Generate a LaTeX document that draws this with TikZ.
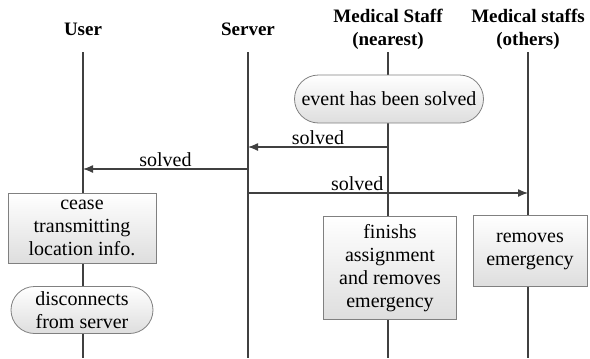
\documentclass[tikz,border=0pt]{standalone}
\usepackage{fontspec}
\setmainfont{Liberation Serif}
\usetikzlibrary{shapes.misc,arrows.meta}
\begin{document}
\begin{tikzpicture}[x=1pt,y=-1pt,
  lifeline/.style={draw=black!75,line width=1.8pt},
  msg/.style={draw=black!75,line width=1.3pt,-{Latex[length=10pt,width=8pt]}},
  actor/.style={font=\fontsize{19}{23}\selectfont\bfseries,align=center,inner sep=0pt},
  actbox/.style={draw=black!50,line width=0.8pt,top color=white,bottom color=black!13,
    align=center,font=\fontsize{20}{23}\selectfont,inner sep=0pt},
  statebox/.style={actbox,rounded rectangle},
  lbl/.style={font=\fontsize{20}{23}\selectfont,inner sep=2pt}
]
\useasboundingbox (0,0) rectangle (590,359);

% participants
\node[actor] (hu) at (83,29) {User};
\node[actor] (hs) at (248,29) {Server};
\node[actor] (hn) at (388,29) {Medical Staff\\(nearest)};
\node[actor] (ho) at (528,29) {Medical staffs\\(others)};

% lifelines
\coordinate (u0) at (83,52);  \coordinate (u1) at (83,358);
\coordinate (s0) at (248,52); \coordinate (s1) at (248,358);
\coordinate (n0) at (388,52); \coordinate (n1) at (388,358);
\coordinate (o0) at (528,52); \coordinate (o1) at (528,358);
\draw[lifeline] (u0) -- (u1);
\draw[lifeline] (s0) -- (s1);
\draw[lifeline] (n0) -- (n1);
\draw[lifeline] (o0) -- (o1);

% states and activities
\node[statebox,minimum width=189pt,minimum height=48pt] (solvedst) at (389,99) {event has been solved};
\node[actbox,minimum width=148pt,minimum height=70pt] (cease) at (82,228) {cease\\transmitting\\location info.};
\node[statebox,minimum width=142pt,minimum height=47pt] (disc) at (82,310) {disconnects\\from server};
\node[actbox,minimum width=133pt,minimum height=103pt] (finish) at (390,268) {finishs\\assignment\\and removes\\emergency};
\node[actbox,minimum width=114pt,minimum height=71pt] (remove) at (530,251) {removes\\emergency};

% messages
\coordinate (m1a) at (388,147); \coordinate (m1b) at (248,147);
\coordinate (m2a) at (248,169); \coordinate (m2b) at (83,169);
\coordinate (m3a) at (248,193); \coordinate (m3b) at (528,193);
\draw[msg] (m1a) -- node[lbl,above] {solved} (m1b);
\draw[msg] (m2a) -- node[lbl,above] {solved} (m2b);
\draw[msg] (m3a) -- node[lbl,above,pos=0.39] {solved} (m3b);
\end{tikzpicture}
\end{document}
